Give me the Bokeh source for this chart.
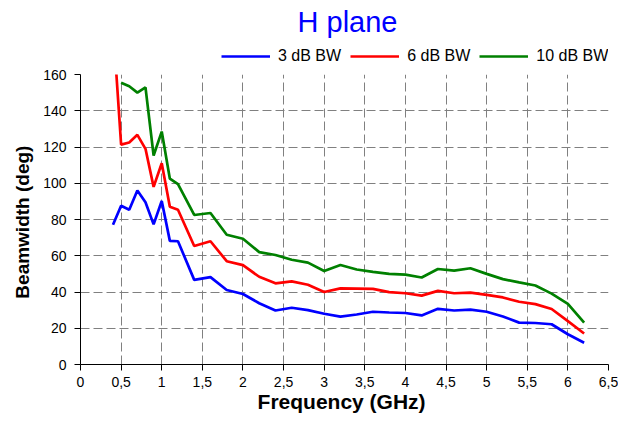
import math
from bokeh.plotting import figure
from bokeh.layouts import column
from bokeh.models import Range1d, FixedTicker, Legend, LegendItem
from bokeh.embed import file_html
from bokeh.resources import INLINE

# ---- data ----
freq = [0.4, 0.5, 0.6, 0.7, 0.8, 0.9, 1.0, 1.1, 1.2, 1.4, 1.6, 1.8, 2.0, 2.2, 2.4, 2.6, 2.8,
        3.0, 3.2, 3.4, 3.6, 3.8, 4.0, 4.2, 4.4, 4.6, 4.8, 5.0, 5.2, 5.4, 5.6, 5.8, 6.0, 6.2]
bw3 = [77.1, 87.6, 85.4, 96.0, 89.5, 77.3, 90.2, 68.2, 68.0, 46.7, 48.2, 41.1, 38.9, 33.8, 29.8,
       31.3, 30.0, 28.0, 26.4, 27.6, 29.1, 28.7, 28.4, 27.1, 30.7, 29.8, 30.3, 29.1, 26.5, 23.1,
       22.9, 22.2, 16.7, 12.0]
bw6 = [188.0, 121.3, 122.5, 126.7, 119.0, 98.0, 111.0, 87.0, 85.4, 65.4, 68.0, 57.0, 54.8, 48.4,
       44.8, 45.9, 44.0, 40.0, 42.0, 41.9, 41.7, 39.9, 39.3, 38.0, 40.6, 39.3, 39.7, 38.4, 37.0,
       34.6, 33.3, 30.6, 23.9, 17.1]
bw10 = [math.nan, 155.5, 153.5, 150.0, 152.9, 115.3, 128.5, 102.5, 99.5, 82.5, 83.6, 71.6, 69.4,
        62.0, 60.4, 57.8, 56.2, 51.6, 54.9, 52.4, 51.1, 50.0, 49.6, 48.0, 52.7, 51.8, 53.1, 50.0,
        47.1, 45.3, 43.6, 39.1, 33.4, 23.1]

series = [bw3, bw6, bw10]
series_names = ["3 dB BW", "6 dB BW", "10 dB BW"]
series_colors = ["#0000FF", "#FF0000", "#008000"]

x_ticks = [0.0, 0.5, 1.0, 1.5, 2.0, 2.5, 3.0, 3.5, 4.0, 4.5, 5.0, 5.5, 6.0, 6.5]
x_tick_labels = ["0", "0,5", "1", "1,5", "2", "2,5", "3", "3,5", "4", "4,5", "5", "5,5", "6", "6,5"]
y_ticks = [0, 20, 40, 60, 80, 100, 120, 140, 160]

title_text = "H plane"
x_label = "Frequency  (GHz)"
y_label = "Beamwidth  (deg)"

FONT = "Liberation Sans"
W = 618
HEAD_H = 66

# ---- header figure: title + legend (its frame is aligned with the chart's frame) ----
head = figure(width=W, height=HEAD_H, output_backend="svg", toolbar_location=None,
              x_axis_location=None, y_axis_location=None,
              x_range=Range1d(0, 1), y_range=Range1d(-2, -1),
              min_border_left=80, min_border_right=10, min_border_top=0, min_border_bottom=0)
head.outline_line_color = None
head.grid.visible = False
head.title.text = title_text
head.title.text_font = FONT
head.title.text_font_size = "29px"
head.title.text_font_style = "normal"
head.title.text_color = "#0000FF"
head.title.align = "left"
head.title.offset = 217
head.title.standoff = 7

# same series, out of the header's view: only their legend keys show
key_renderers = [head.line(freq, ys, line_color=c, line_width=2.7)
                 for ys, c in zip(series, series_colors)]
legend = Legend(items=[LegendItem(label=n, renderers=[r]) for n, r in zip(series_names, key_renderers)],
                location=(141, 0), orientation="horizontal",
                glyph_width=49, glyph_height=20, label_height=20, label_standoff=8, spacing=9,
                padding=0, margin=0, border_line_alpha=0, background_fill_alpha=0,
                label_text_font=FONT, label_text_font_size="16px", label_text_color="black")
head.add_layout(legend)

# ---- main chart ----
p = figure(width=W, height=416 - HEAD_H, output_backend="svg", toolbar_location=None,
           x_range=Range1d(0, 6.5), y_range=Range1d(0, 160),
           min_border_left=80, min_border_right=10, min_border_top=74 - HEAD_H, min_border_bottom=52)
p.outline_line_color = None
p.background_fill_color = "white"

for ys, c in zip(series, series_colors):
    p.line(freq, ys, line_color=c, line_width=2.7)

p.xaxis.ticker = FixedTicker(ticks=x_ticks)
p.xaxis.major_label_overrides = {t: l for t, l in zip(x_ticks, x_tick_labels)}
p.yaxis.ticker = FixedTicker(ticks=y_ticks)

for ax in (p.xaxis, p.yaxis):
    ax.axis_line_color = "black"
    ax.axis_line_width = 1
    ax.major_tick_line_color = "black"
    ax.major_tick_out = 6
    ax.major_tick_in = 0
    ax.minor_tick_out = 0
    ax.minor_tick_in = 0
    ax.major_label_text_font = FONT
    ax.major_label_text_font_size = "14px"
    ax.major_label_text_color = "black"
    ax.axis_label_text_font = FONT
    ax.axis_label_text_font_style = "bold"
    ax.axis_label_text_color = "black"

p.xaxis.axis_label = x_label
p.xaxis.axis_label_text_font_size = "21px"
p.xaxis.major_label_standoff = 6
p.xaxis.axis_label_standoff = 0
p.yaxis.axis_label = y_label
p.yaxis.axis_label_text_font_size = "19px"
p.yaxis.major_label_standoff = 8
p.yaxis.axis_label_standoff = 7

for g in (p.xgrid, p.ygrid):
    g.grid_line_color = "#808080"
    g.grid_line_width = 1
    g.grid_line_dash = "9 4"

layout = column(head, p, spacing=0)
open("out.html", "w").write(file_html(layout, INLINE))
